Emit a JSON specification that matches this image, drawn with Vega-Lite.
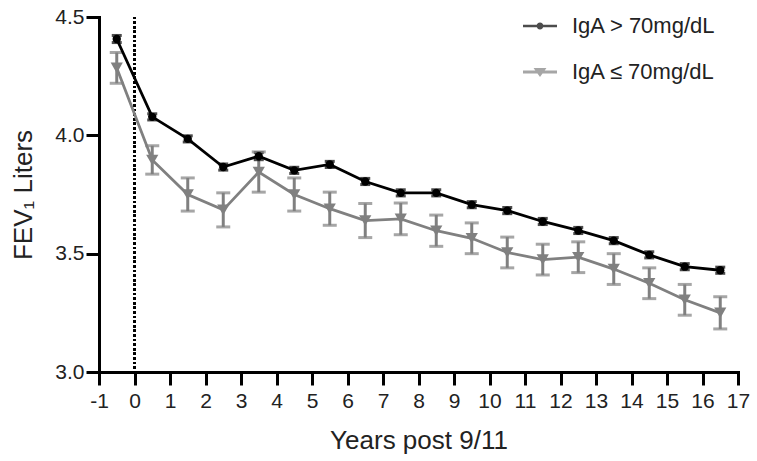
{
  "$schema": "https://vega.github.io/schema/vega-lite/v6.json",
  "width": 639,
  "height": 355,
  "autosize": {"type": "none"},
  "padding": {"left": 99, "top": 17, "right": 19, "bottom": 89},
  "background": "white",
  "config": {
    "view": {"stroke": null},
    "font": "Liberation Sans",
    "axis": {
      "grid": false,
      "domainColor": "#000000",
      "domainWidth": 3,
      "domainCap": "square",
      "tickColor": "#000000",
      "tickWidth": 3,
      "tickSize": 13,
      "labelFont": "Liberation Sans",
      "labelFontSize": 21,
      "labelColor": "#222222",
      "labelFlush": false,
      "labelOverlap": false,
      "titleFont": "Liberation Sans",
      "titleFontSize": 26,
      "titleFontWeight": "normal",
      "titleColor": "#222222"
    },
    "legend": {
      "title": null,
      "orient": "none",
      "legendX": 424,
      "legendY": -8,
      "padding": 0,
      "symbolSize": 1156,
      "symbolStrokeWidth": 0,
      "labelFont": "Liberation Sans",
      "labelFontSize": 22,
      "labelColor": "#222222",
      "labelOffset": 15,
      "rowPadding": 18
    }
  },
  "data": {
    "values": [
      {"x": -0.5, "group": "IgA > 70mg/dL", "mean": 4.407, "lo": 4.392, "hi": 4.422},
      {"x": 0.5, "group": "IgA > 70mg/dL", "mean": 4.078, "lo": 4.065, "hi": 4.091},
      {"x": 1.5, "group": "IgA > 70mg/dL", "mean": 3.985, "lo": 3.972, "hi": 3.998},
      {"x": 2.5, "group": "IgA > 70mg/dL", "mean": 3.866, "lo": 3.853, "hi": 3.879},
      {"x": 3.5, "group": "IgA > 70mg/dL", "mean": 3.912, "lo": 3.897, "hi": 3.927},
      {"x": 4.5, "group": "IgA > 70mg/dL", "mean": 3.852, "lo": 3.839, "hi": 3.865},
      {"x": 5.5, "group": "IgA > 70mg/dL", "mean": 3.877, "lo": 3.864, "hi": 3.890},
      {"x": 6.5, "group": "IgA > 70mg/dL", "mean": 3.805, "lo": 3.792, "hi": 3.818},
      {"x": 7.5, "group": "IgA > 70mg/dL", "mean": 3.757, "lo": 3.744, "hi": 3.770},
      {"x": 8.5, "group": "IgA > 70mg/dL", "mean": 3.757, "lo": 3.744, "hi": 3.770},
      {"x": 9.5, "group": "IgA > 70mg/dL", "mean": 3.707, "lo": 3.694, "hi": 3.720},
      {"x": 10.5, "group": "IgA > 70mg/dL", "mean": 3.682, "lo": 3.669, "hi": 3.695},
      {"x": 11.5, "group": "IgA > 70mg/dL", "mean": 3.636, "lo": 3.623, "hi": 3.649},
      {"x": 12.5, "group": "IgA > 70mg/dL", "mean": 3.598, "lo": 3.585, "hi": 3.611},
      {"x": 13.5, "group": "IgA > 70mg/dL", "mean": 3.555, "lo": 3.542, "hi": 3.568},
      {"x": 14.5, "group": "IgA > 70mg/dL", "mean": 3.495, "lo": 3.482, "hi": 3.508},
      {"x": 15.5, "group": "IgA > 70mg/dL", "mean": 3.445, "lo": 3.432, "hi": 3.458},
      {"x": 16.5, "group": "IgA > 70mg/dL", "mean": 3.430, "lo": 3.417, "hi": 3.443},
      {"x": -0.5, "group": "IgA ≤ 70mg/dL", "mean": 4.285, "lo": 4.220, "hi": 4.350},
      {"x": 0.5, "group": "IgA ≤ 70mg/dL", "mean": 3.896, "lo": 3.836, "hi": 3.956},
      {"x": 1.5, "group": "IgA ≤ 70mg/dL", "mean": 3.750, "lo": 3.680, "hi": 3.820},
      {"x": 2.5, "group": "IgA ≤ 70mg/dL", "mean": 3.685, "lo": 3.613, "hi": 3.757},
      {"x": 3.5, "group": "IgA ≤ 70mg/dL", "mean": 3.845, "lo": 3.760, "hi": 3.930},
      {"x": 4.5, "group": "IgA ≤ 70mg/dL", "mean": 3.750, "lo": 3.680, "hi": 3.820},
      {"x": 5.5, "group": "IgA ≤ 70mg/dL", "mean": 3.690, "lo": 3.620, "hi": 3.760},
      {"x": 6.5, "group": "IgA ≤ 70mg/dL", "mean": 3.640, "lo": 3.568, "hi": 3.712},
      {"x": 7.5, "group": "IgA ≤ 70mg/dL", "mean": 3.647, "lo": 3.580, "hi": 3.714},
      {"x": 8.5, "group": "IgA ≤ 70mg/dL", "mean": 3.597, "lo": 3.531, "hi": 3.663},
      {"x": 9.5, "group": "IgA ≤ 70mg/dL", "mean": 3.565, "lo": 3.500, "hi": 3.630},
      {"x": 10.5, "group": "IgA ≤ 70mg/dL", "mean": 3.505, "lo": 3.440, "hi": 3.570},
      {"x": 11.5, "group": "IgA ≤ 70mg/dL", "mean": 3.475, "lo": 3.410, "hi": 3.540},
      {"x": 12.5, "group": "IgA ≤ 70mg/dL", "mean": 3.485, "lo": 3.420, "hi": 3.550},
      {"x": 13.5, "group": "IgA ≤ 70mg/dL", "mean": 3.435, "lo": 3.370, "hi": 3.500},
      {"x": 14.5, "group": "IgA ≤ 70mg/dL", "mean": 3.375, "lo": 3.310, "hi": 3.440},
      {"x": 15.5, "group": "IgA ≤ 70mg/dL", "mean": 3.305, "lo": 3.240, "hi": 3.370},
      {"x": 16.5, "group": "IgA ≤ 70mg/dL", "mean": 3.250, "lo": 3.182, "hi": 3.318}
    ]
  },
  "encoding": {
    "x": {
      "field": "x",
      "type": "quantitative",
      "scale": {"domain": [-1, 17], "nice": false, "zero": false},
      "axis": {
        "values": [-1, 0, 1, 2, 3, 4, 5, 6, 7, 8, 9, 10, 11, 12, 13, 14, 15, 16, 17],
        "labelExpr": "'' + datum.value",
        "labelPadding": 5,
        "title": "Years post 9/11",
        "titlePadding": 16
      }
    },
    "color": {
      "field": "group",
      "type": "nominal",
      "scale": {"domain": ["IgA > 70mg/dL", "IgA ≤ 70mg/dL"], "range": ["#000000", "#808080"]},
      "legend": {"title": null, "symbolSize": 1156}
    }
  },
  "layer": [
    {
      "mark": {"type": "rule", "color": "#000000", "strokeWidth": 1.6, "strokeDash": [2, 2.6]},
      "encoding": {"x": {"datum": 0, "type": "quantitative"}, "color": {"value": "#000000"}}
    },
    {
      "mark": {"type": "rule", "strokeWidth": 3},
      "encoding": {
        "y": {
          "field": "lo",
          "type": "quantitative",
          "scale": {"domain": [3, 4.5], "nice": false, "zero": false},
          "axis": {
            "values": [3, 3.5, 4, 4.5],
            "format": ".1f",
            "labelPadding": 2,
            "title": "FEV₁ Liters",
            "titlePadding": 18
          }
        },
        "y2": {"field": "hi"}
      }
    },
    {
      "transform": [{"filter": "datum.group === 'IgA > 70mg/dL'"}],
      "mark": {"type": "tick", "orient": "horizontal", "thickness": 3, "size": 10},
      "encoding": {"y": {"field": "lo", "type": "quantitative"}}
    },
    {
      "transform": [{"filter": "datum.group === 'IgA > 70mg/dL'"}],
      "mark": {"type": "tick", "orient": "horizontal", "thickness": 3, "size": 10},
      "encoding": {"y": {"field": "hi", "type": "quantitative"}}
    },
    {
      "transform": [{"filter": "datum.group === 'IgA ≤ 70mg/dL'"}],
      "mark": {"type": "tick", "orient": "horizontal", "thickness": 3, "size": 14},
      "encoding": {"y": {"field": "lo", "type": "quantitative"}}
    },
    {
      "transform": [{"filter": "datum.group === 'IgA ≤ 70mg/dL'"}],
      "mark": {"type": "tick", "orient": "horizontal", "thickness": 3, "size": 14},
      "encoding": {"y": {"field": "hi", "type": "quantitative"}}
    },
    {
      "mark": {"type": "line", "strokeWidth": 2.8},
      "encoding": {
        "y": {"field": "mean", "type": "quantitative"}
      }
    },
    {
      "transform": [{"filter": "datum.group === 'IgA > 70mg/dL'"}],
      "mark": {"type": "point", "shape": "circle", "filled": true, "size": 70, "opacity": 1},
      "encoding": {"y": {"field": "mean", "type": "quantitative"}}
    },
    {
      "transform": [{"filter": "datum.group === 'IgA ≤ 70mg/dL'"}],
      "mark": {"type": "point", "shape": "triangle-down", "filled": true, "size": 150, "opacity": 1},
      "encoding": {"y": {"field": "mean", "type": "quantitative"}}
    },
    {
      "transform": [{"filter": "datum.x > 100"}],
      "mark": {"type": "point", "filled": true, "size": 1156},
      "encoding": {
        "y": {"field": "mean", "type": "quantitative"},
        "shape": {
          "field": "group",
          "type": "nominal",
          "scale": {
            "domain": ["IgA > 70mg/dL", "IgA ≤ 70mg/dL"],
            "range": [
              "M-1,-0.075H-0.15V0.075H-1ZM0.15,-0.075H1V0.075H0.15ZM-0.2,0A0.2,0.2,0,0,1,0.2,0A0.2,0.2,0,0,1,-0.2,0Z",
              "M-1,-0.085H1V0.085H-1ZM-0.38,-0.24H0.38L0,0.3Z"
            ]
          },
          "legend": {"title": null, "symbolSize": 1156}
        }
      }
    }
  ]
}
